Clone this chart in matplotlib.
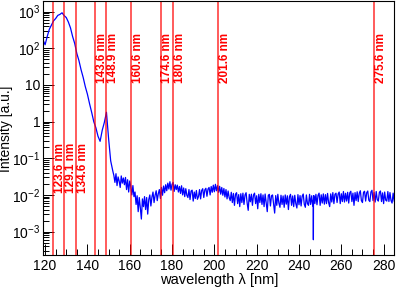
import numpy as np
import matplotlib
matplotlib.use("Agg")
import matplotlib.pyplot as plt
from matplotlib.ticker import MultipleLocator, LogLocator, FixedLocator, FixedFormatter, NullFormatter

plt.rcParams['font.family'] = ['Liberation Sans', 'DejaVu Sans']
plt.rcParams['mathtext.fontset'] = 'custom'
plt.rcParams['mathtext.rm'] = 'Liberation Sans'
plt.rcParams['mathtext.it'] = 'Liberation Sans:italic'

# main emission part, one value per nm from 119 to 152 nm
head_start = 119
head = [
    170, 125, 210, 330, 430, 560, 650, 790, 840, 930,
    780, 690, 520, 360, 210, 135, 72, 46, 26, 16,
    9.0, 5.6, 3.1, 1.8, 1.0, 0.68, 0.40, 0.29, 0.58, 0.95,
    1.8, 0.35, 0.085, 0.045,
]
# noisy tail, one value per 0.5 nm from 152.5 to 285 nm
tail_start = 152.5
tail = [
    0.034, 0.022, 0.038, 0.018, 0.031, 0.024, 0.016, 0.033, 0.021, 0.029,
    0.019, 0.030, 0.014, 0.026, 0.012, 0.024, 0.017, 0.010, 0.018, 0.009,
    0.012, 0.0055, 0.0095, 0.0035, 0.0085, 0.0045, 0.0022, 0.0078, 0.0048, 0.0090,
    0.0040, 0.0085, 0.0030, 0.0075, 0.0100, 0.0050, 0.0088, 0.0120, 0.0062, 0.0098,
    0.0130, 0.0070, 0.0108, 0.0140, 0.0080, 0.0160, 0.0098, 0.0175, 0.0115, 0.0190,
    0.0130, 0.0210, 0.0145, 0.0230, 0.0135, 0.0195, 0.0220, 0.0125, 0.0190, 0.0140,
    0.0185, 0.0120, 0.0170, 0.0110, 0.0178, 0.0100, 0.0155, 0.0090, 0.0148, 0.0098,
    0.0085, 0.0140, 0.0075, 0.0128, 0.0135, 0.0068, 0.0120, 0.0080, 0.0132, 0.0076,
    0.0090, 0.0140, 0.0078, 0.0132, 0.0148, 0.0085, 0.0138, 0.0152, 0.0092, 0.0145,
    0.0160, 0.0100, 0.0170, 0.0118, 0.0185, 0.0122, 0.0195, 0.0130, 0.0180, 0.0118,
    0.0172, 0.0105, 0.0160, 0.0098, 0.0150, 0.0088, 0.0140, 0.0078, 0.0128, 0.0085,
    0.0070, 0.0118, 0.0062, 0.0110, 0.0052, 0.0105, 0.0115, 0.0058, 0.0102, 0.0048,
    0.0108, 0.0062, 0.0112, 0.0055, 0.0100, 0.0115, 0.0060, 0.0038, 0.0104, 0.0065,
    0.0105, 0.0052, 0.0100, 0.0112, 0.0058, 0.0095, 0.0042, 0.0104, 0.0062, 0.0108,
    0.0055, 0.0100, 0.0048, 0.0106, 0.0060, 0.0035, 0.0098, 0.0104, 0.0050, 0.0095,
    0.0100, 0.0056, 0.0032, 0.0096, 0.0052, 0.0104, 0.0060, 0.0046, 0.0098, 0.0055,
    0.0094, 0.0046, 0.0100, 0.0056, 0.0095, 0.0040, 0.0090, 0.0104, 0.0052, 0.0094,
    0.0048, 0.0098, 0.0058, 0.0044, 0.0102, 0.0054, 0.0096, 0.0050, 0.0093, 0.0106,
    0.0056, 0.0046, 0.0100, 0.0058, 0.0052, 0.0104, 0.0055, 0.0095, 0.0050, 0.0096,
    0.0058, 0.0104, 0.0054, 0.0098, 0.0112, 0.0052, 0.0101, 0.0060, 0.0107, 0.0056,
    0.0102, 0.0058, 0.0110, 0.0062, 0.0048, 0.0107, 0.0064, 0.0116, 0.0058, 0.0104,
    0.0112, 0.0062, 0.0106, 0.0120, 0.0058, 0.0108, 0.0066, 0.0124, 0.0064, 0.0111,
    0.0068, 0.0118, 0.0060, 0.0114, 0.0126, 0.0066, 0.0112, 0.0052, 0.0116, 0.0070,
    0.0122, 0.0066, 0.0112, 0.0130, 0.0070, 0.0062, 0.0118, 0.0126, 0.0068, 0.0115,
    0.0128, 0.0072, 0.0066, 0.0120, 0.0134, 0.0070, 0.0116, 0.0064, 0.0124, 0.0074,
    0.0068, 0.0118, 0.0128, 0.0066, 0.0114, 0.0058, 0.0120, 0.0072, 0.0068, 0.0124,
    0.0066, 0.0116, 0.0070, 0.0060, 0.0112, 0.0068,
]
# single dead-channel spike near 247 nm
spike_wl = [246.75, 246.8, 246.85]
spike_val = [0.0070, 0.0006, 0.0070]

lines_nm = [123.6, 129.1, 134.6, 143.6, 148.9, 160.6, 174.6, 180.6, 201.6, 275.6]
low_labels = [123.6, 129.1, 134.6]

x = np.concatenate([head_start + np.arange(len(head)),
                    tail_start + 0.5 * np.arange(len(tail)), spike_wl])
y = np.concatenate([head, tail, spike_val])
order = np.argsort(x, kind="stable")
x, y = x[order], y[order]

fig = plt.figure(figsize=(3.96, 2.89), dpi=100)
ax = fig.add_axes([43.3 / 396, 1 - 255 / 289, 351 / 396, 254 / 289])

ax.plot(x, y, color="#0000ff", lw=0.9)

for l in lines_nm:
    ax.axvline(l, color="red", lw=1.2, alpha=0.75)
    ty = 0.0115 if l in low_labels else 11.3
    ax.text(l + 0.4, ty, f"{l} nm", rotation=90, color="red", fontsize=8.5,
            fontweight="bold", ha="left", va="bottom")

ax.set_yscale("log")
ax.set_xlim(119.15, 285.05)
ax.set_ylim(2.3e-4, 1950)

ax.xaxis.set_major_locator(MultipleLocator(20))
ax.xaxis.set_minor_locator(MultipleLocator(5))
ax.yaxis.set_major_locator(FixedLocator([1e-3, 1e-2, 1e-1, 1, 10, 100, 1000]))
ax.yaxis.set_major_formatter(FixedFormatter([r"$\mathregular{10^{-3}}$", r"$\mathregular{10^{-2}}$",
                                             r"$\mathregular{10^{-1}}$", "1", "10",
                                             r"$\mathregular{10^{2}}$", r"$\mathregular{10^{3}}$"]))
ax.yaxis.set_minor_locator(LogLocator(base=10, subs=np.arange(2, 10), numticks=20))
ax.yaxis.set_minor_formatter(NullFormatter())

ax.tick_params(which="both", direction="in", top=False, right=False, labelsize=10, width=0.7)
ax.tick_params(which="major", length=8, pad=3)
ax.tick_params(axis="y", which="major", pad=2)
ax.tick_params(which="minor", length=4)
for s in ax.spines.values():
    s.set_linewidth(0.8)

ax.set_xlabel("wavelength λ [nm]", fontsize=10.5, labelpad=0)
fig.text(6.5 / 396, 1 - 129 / 289, "Intensity [a.u.]", rotation=90, fontsize=10,
         ha="center", va="center")

fig.savefig("out.png", dpi=100)
